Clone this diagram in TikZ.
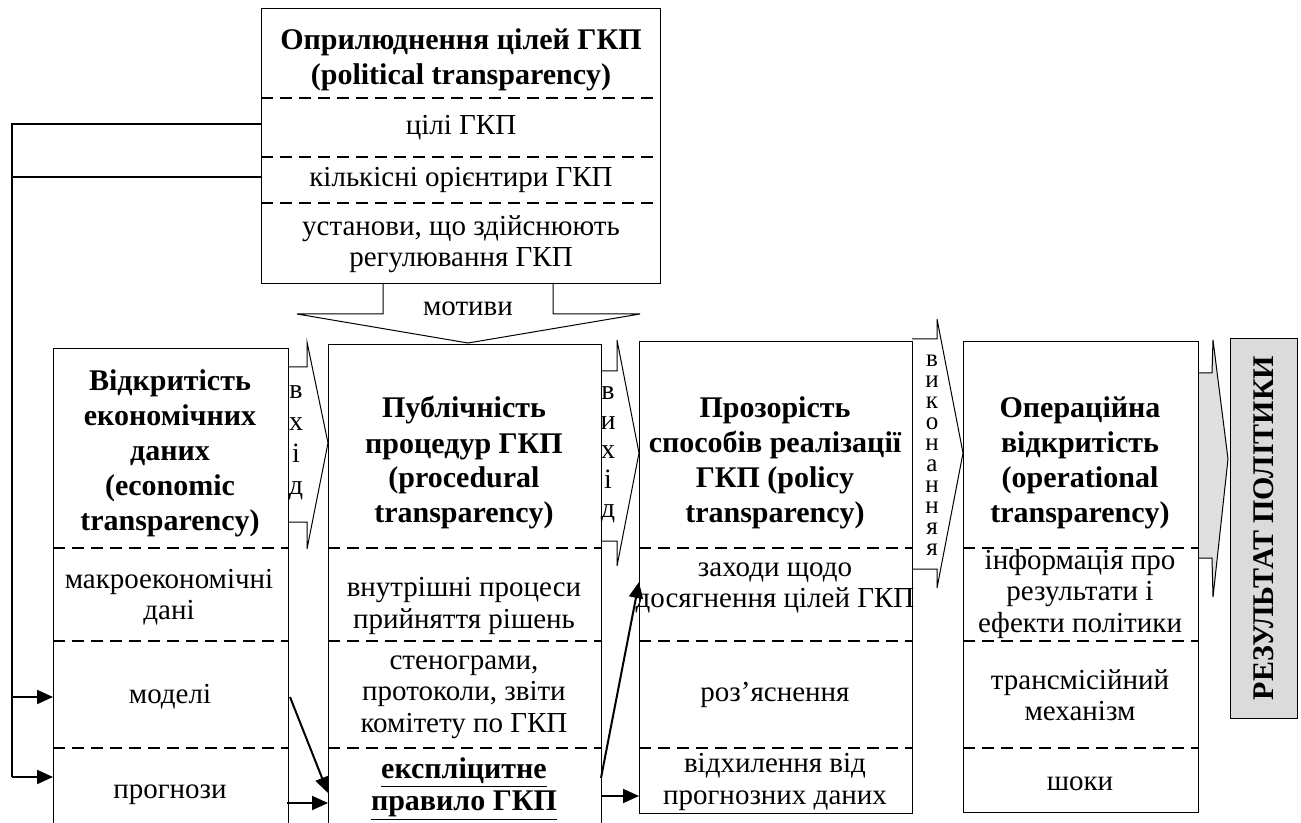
\documentclass[tikz,border=0pt]{standalone}
\usepackage{fontspec}
\setmainfont{Liberation Serif}
\usetikzlibrary{arrows.meta}
\begin{document}
\begin{tikzpicture}[x=0.5pt,y=-0.5pt,
  frame/.style={draw=black, line width=0.6pt, inner sep=0, anchor=north west},
  dashln/.style={line width=0.8pt, dash pattern=on 6pt off 3.5pt},
  blk/.style={draw=black, line width=0.5pt, line join=miter},
  link/.style={line width=1pt, -{Triangle[length=8pt,width=7pt]}},
  feed/.style={line width=1pt},
  ttl/.style={font=\fontsize{15}{17.5}\selectfont\bfseries, align=center, inner sep=0},
  txt/.style={font=\fontsize{14.5}{15.75}\selectfont, align=center, inner sep=0},
  vtxt/.style={align=center, inner sep=0},
]
\clip (0,0) rectangle (1301,823);

% block arrows between the stages
\draw[blk, fill=white] (383,283) -- (383,314) -- (297,314) -- (468,343) -- (640,314) -- (553,314) -- (553,283);
\draw[blk] (288,367) -- (307,367) -- (307,342) -- (328,443) -- (307,549) -- (307,522) -- (288,522);
\draw[blk] (601,371) -- (617,371) -- (617,340) -- (639,453) -- (617,566) -- (617,541) -- (601,541);
\draw[blk] (912,339) -- (937,339) -- (937,319) -- (963,453) -- (937,588) -- (937,569) -- (912,569);
\draw[blk, fill=black!12] (1198,373) -- (1212,373) -- (1213,340) -- (1228,459) -- (1213,597) -- (1212,558) -- (1198,558);

% stage boxes
\node[frame, minimum width=199.5pt, minimum height=137.5pt] (goals) at (261,8) {};
\node[frame, minimum width=117.5pt, minimum height=246pt] (econ) at (53,348) {};
\node[frame, minimum width=136.5pt, minimum height=248pt] (proc) at (328,344) {};
\node[frame, minimum width=136.5pt, minimum height=236pt] (policy) at (639,341) {};
\node[frame, minimum width=117.5pt, minimum height=235.5pt] (oper) at (963,341) {};
\node[frame, fill=black!14, minimum width=33.5pt, minimum height=190pt] (result) at (1230,338) {};

% dashed separators
\foreach \y in {98,157,203} \draw[dashln] (261,\y) -- (660,\y);
\foreach \y in {548,641,748} {
  \draw[dashln] (53,\y) -- (288,\y);
  \draw[dashln] (328,\y) -- (601,\y);
  \draw[dashln] (639,\y) -- (912,\y);
  \draw[dashln] (963,\y) -- (1198,\y);
}

% texts of the top box
\node[ttl] (goalsT) at (461,60) {Оприлюднення цілей ГКП\\(political transparency)};
\node[txt] (goalsA) at (461,128) {цілі ГКП};
\node[txt] (goalsB) at (461,180) {кількісні орієнтири ГКП};
\node[txt] (goalsC) at (461,244) {установи, що здійснюють\\регулювання ГКП};
\node[txt] (motT) at (468,309) {мотиви};

% economic transparency
\node[ttl] (econT) at (170,453) {Відкритість\\економічних\\даних\\(economic\\transparency)};
\node[txt] (econA) at (169,597) {макроекономічні\\дані};
\node[txt] (econB) at (170,697) {моделі};
\node[txt] (econC) at (170,795) {прогнози};

% procedural transparency
\node[ttl] (procT) at (464,463) {Публічність\\процедур ГКП\\(procedural\\transparency)};
\node[txt] (procA) at (464,606) {внутрішні процеси\\прийняття рішень};
\node[txt] (procB) at (464,697) {стенограми,\\протоколи, звіти\\комітету по ГКП};
\node[ttl, font=\fontsize{15}{16}\selectfont\bfseries] (procC) at (464,789) {\underline{експліцитне}\\\underline{правило ГКП}};

% policy transparency
\node[ttl] (polT) at (775,463) {Прозорість\\способів реалізації\\ГКП (policy\\transparency)};
\node[txt] (polA) at (775,588) {заходи щодо\\досягнення цілей ГКП};
\node[txt] (polB) at (775,695) {роз’яснення};
\node[txt] (polC) at (775,782) {відхилення від\\прогнозних даних};

% operational transparency
\node[ttl] (operT) at (1080,463) {Операційна\\відкритість\\(operational\\transparency)};
\node[txt] (operA) at (1080,594) {інформація про\\результати і\\ефекти політики};
\node[txt] (operB) at (1080,695) {трансмісійний\\механізм};
\node[txt] (operC) at (1080,784) {шоки};

% labels inside block arrows
\node[vtxt, font=\fontsize{14}{16}\selectfont] (inA) at (296,443) {в\\х\\і\\д};
\node[vtxt, font=\fontsize{14}{14.75}\selectfont] (outA) at (608,455) {в\\и\\х\\і\\д};
\node[vtxt, font=\fontsize{12.5}{10.5}\selectfont] (execA) at (932,455) {в\\и\\к\\о\\н\\а\\н\\н\\я\\я};
\node[font=\fontsize{15}{16}\selectfont\bfseries, rotate=90, inner sep=0] (resT) at (1264,528) {РЕЗУЛЬТАТ ПОЛІТИКИ};

% feedback from the goals to models and forecasts
\coordinate (g1) at (261,124);
\coordinate (g2) at (261,177);
\coordinate (l1) at (12,124);
\coordinate (l2) at (12,177);
\coordinate (l3) at (12,697);
\coordinate (l4) at (12,777);
\coordinate (m1) at (53,697);
\coordinate (m2) at (53,777);
\draw[feed, line join=miter] (g1) -- (l1) -- (l4);
\draw[feed] (g2) -- (l2);
\draw[link] (l3) -- (m1);
\draw[link] (l4) -- (m2);

% links between the lower parts of the boxes
\coordinate (e1) at (290,697);
\coordinate (p1) at (328,793);
\coordinate (e2) at (287,803);
\coordinate (p2) at (328,803);
\coordinate (p3) at (601,778);
\coordinate (q3) at (639,582);
\coordinate (p4) at (601,796);
\coordinate (q4) at (639,796);
\draw[link] (e1) -- (p1);
\draw[link] (e2) -- (p2);
\draw[link] (p3) -- (q3);
\draw[link] (p4) -- (q4);
\end{tikzpicture}
\end{document}
